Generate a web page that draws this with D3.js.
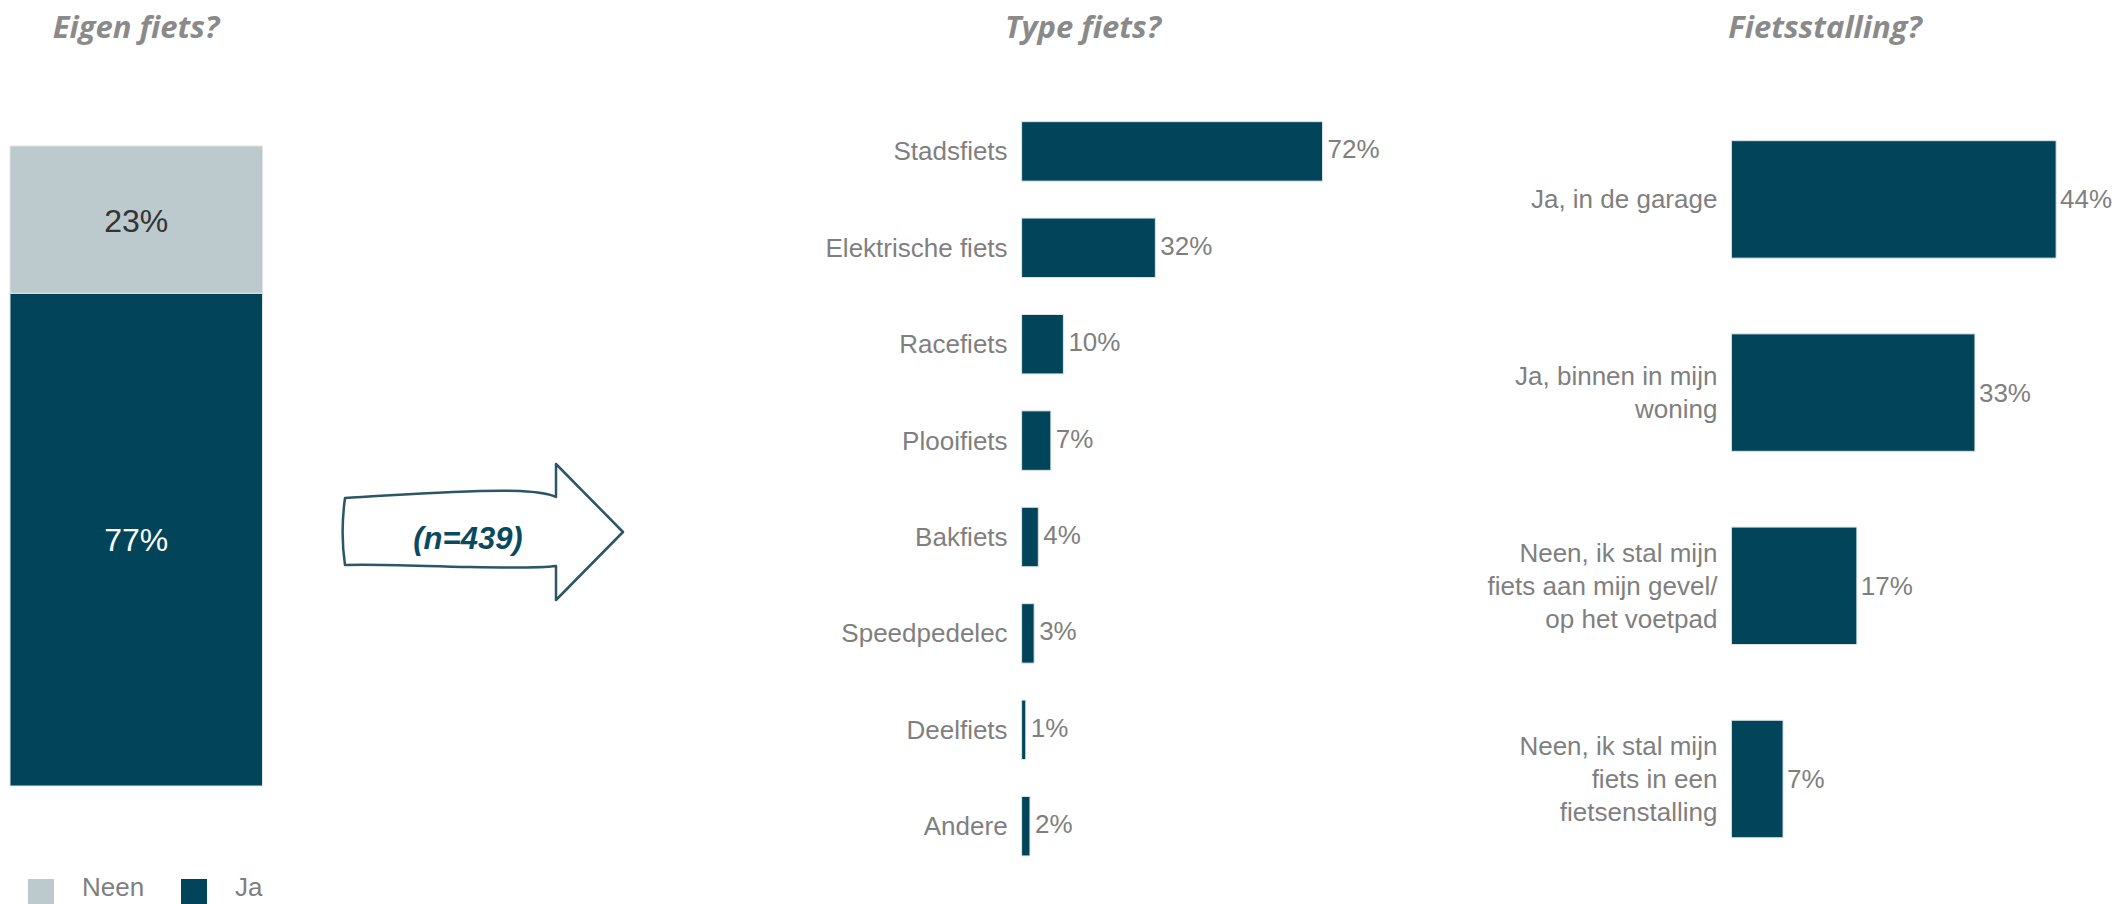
<!DOCTYPE html>
<html>
<head>
<meta charset="utf-8">
<script src="https://cdn.jsdelivr.net/npm/d3@7"></script>
<style>
  html, body { margin: 0; padding: 0; background: #ffffff; }
  svg { display: block; }
</style>
</head>
<body>
<svg id="chart" width="2118" height="904"></svg>
<script>
// ---------- DATA ----------
const titles = ["Eigen fiets?", "Type fiets?", "Fietsstalling?"];

const eigenCats = ["Ja", "Neen"];
const eigenVals = [77, 23];

const typeCats = ["Stadsfiets", "Elektrische fiets", "Racefiets", "Plooifiets", "Bakfiets", "Speedpedelec", "Deelfiets", "Andere"];
const typeVals = [72, 32, 10, 7, 4, 3, 1, 2];

const stallCats = ["Ja, in de garage", "Ja, binnen in mijn\nwoning", "Neen, ik stal mijn\nfiets aan mijn gevel/\nop het voetpad", "Neen, ik stal mijn\nfiets in een\nfietsenstalling"];
const stallVals = [44, 33, 17, 7];

const legendLabels = ["Neen", "Ja"];
const nLabel = "(n=439)";

// ---------- STYLE ----------
const DARK = "#02455b";
const LIGHT = "#bcc9cd";
const GREY = "#7f7f7f";
const TITLE_GREY = "#8a8a8a";
const FONT = "'Liberation Sans', Arial, Helvetica, sans-serif";
const TITLE_FONT = "'Open Sans', 'Noto Sans', sans-serif";

const svg = d3.select("#chart");

// ---------- TITLES ----------
const titleX = [136, 1083, 1825];
svg.selectAll("text.title").data(titles).join("text")
  .attr("class", "title")
  .attr("x", (d, i) => titleX[i])
  .attr("y", 38)
  .attr("text-anchor", "middle")
  .style("font-family", TITLE_FONT)
  .style("font-weight", "700")
  .style("font-style", "italic")
  .style("font-size", "31px")
  .style("fill", TITLE_GREY)
  .text(d => d);

// ---------- LEFT: stacked bar ----------
const yL = d3.scaleLinear().domain([0, 100]).range([786, 146]);
const xL = d3.scaleBand().domain(["Eigen fiets"]).range([10, 262.5]).padding(0);
const stackData = [];
let acc = 0;
eigenCats.forEach((c, i) => { stackData.push({ cat: c, v0: acc, v1: acc + eigenVals[i], v: eigenVals[i] }); acc += eigenVals[i]; });
const colorL = d3.scaleOrdinal().domain(["Ja", "Neen"]).range([DARK, LIGHT]);

const gL = svg.append("g");
gL.selectAll("rect").data(stackData).join("rect")
  .attr("x", xL("Eigen fiets"))
  .attr("width", xL.bandwidth())
  .attr("y", d => yL(d.v1))
  .attr("height", d => yL(d.v0) - yL(d.v1))
  .attr("fill", d => colorL(d.cat))
  .attr("stroke", "#dfe6e8")
  .attr("stroke-width", 1);
gL.selectAll("text").data(stackData).join("text")
  .attr("x", xL("Eigen fiets") + xL.bandwidth() / 2)
  .attr("y", d => yL((d.v0 + d.v1) / 2) + (d.cat === "Neen" ? 1 : 0))
  .attr("text-anchor", "middle")
  .attr("dominant-baseline", "central")
  .style("font-family", FONT)
  .style("font-size", "32px")
  .style("fill", d => d.cat === "Ja" ? "#ffffff" : "#333333")
  .text(d => d.v + "%");

// legend
const legX = [28, 181];
const gLeg = svg.append("g");
legendLabels.forEach((l, i) => {
  gLeg.append("rect").attr("x", legX[i]).attr("y", 879).attr("width", 26).attr("height", 26).attr("fill", colorL(l));
  gLeg.append("text").attr("x", legX[i] + 54).attr("y", 896)
    .style("font-family", FONT).style("font-size", "26px").style("fill", GREY).text(l);
});

// ---------- ARROW ----------
const arrowPath = "M345,498 C400,495 470,489 520,491 C540,492 550,494 556,497 L556,464 L623,532 L556,600 L556,566 C540,568 520,568 470,567 C420,566 380,564 345,565 C342,545 342,520 345,498 Z";
svg.append("path")
  .attr("d", arrowPath)
  .attr("fill", "#ffffff")
  .attr("stroke", "#2a5666")
  .attr("stroke-width", 2.5)
  .attr("stroke-linejoin", "round");
svg.append("text")
  .attr("x", 468).attr("y", 538)
  .attr("text-anchor", "middle")
  .attr("dominant-baseline", "central")
  .style("font-family", FONT)
  .style("font-weight", "700")
  .style("font-style", "italic")
  .style("font-size", "31px")
  .style("fill", "#0a4a5e")
  .text(nLabel);

// ---------- MIDDLE: Type fiets ----------
const x0M = 1021.6;
const xM = d3.scaleLinear().domain([0, 100]).range([x0M, x0M + 418]);
const yM = d3.scaleBand().domain(typeCats).range([103.2, 874.4]).paddingInner(0.383).paddingOuter(0.1915);
const gM = svg.append("g");
gM.selectAll("rect").data(typeCats).join("rect")
  .attr("x", xM(0))
  .attr("y", d => yM(d))
  .attr("width", (d, i) => xM(typeVals[i]) - xM(0))
  .attr("height", yM.bandwidth())
  .attr("fill", DARK)
  .attr("stroke", "#dfe6e8")
  .attr("stroke-width", 1);
gM.selectAll("text.cat").data(typeCats).join("text")
  .attr("class", "cat")
  .attr("x", xM(0) - 14)
  .attr("y", d => yM(d) + yM.bandwidth() / 2)
  .attr("text-anchor", "end")
  .attr("dominant-baseline", "central")
  .style("font-family", FONT).style("font-size", "26px").style("fill", GREY)
  .text(d => d);
gM.selectAll("text.val").data(typeCats).join("text")
  .attr("class", "val")
  .attr("x", (d, i) => xM(typeVals[i]) + 5)
  .attr("y", d => yM(d) + yM.bandwidth() / 2 - 2)
  .attr("dominant-baseline", "central")
  .style("font-family", FONT).style("font-size", "26px").style("fill", GREY)
  .text((d, i) => typeVals[i] + "%");

// ---------- RIGHT: Fietsstalling ----------
const x0R = 1731.4;
const xR = d3.scaleLinear().domain([0, 100]).range([x0R, x0R + 738]);
const yR = d3.scaleBand().domain(stallCats).range([102.8, 875.6]).paddingInner(0.392).paddingOuter(0.196);
const gR = svg.append("g");
gR.selectAll("rect").data(stallCats).join("rect")
  .attr("x", xR(0))
  .attr("y", d => yR(d))
  .attr("width", (d, i) => xR(stallVals[i]) - xR(0))
  .attr("height", yR.bandwidth())
  .attr("fill", DARK)
  .attr("stroke", "#dfe6e8")
  .attr("stroke-width", 1);
const lineH = 33;
gR.selectAll("text.cat").data(stallCats).join("text")
  .attr("class", "cat")
  .attr("text-anchor", "end")
  .style("font-family", FONT).style("font-size", "26px").style("fill", GREY)
  .each(function(d) {
    const lines = d.split("\n");
    const cy = yR(d) + yR.bandwidth() / 2;
    const t = d3.select(this);
    lines.forEach((ln, k) => {
      t.append("tspan")
        .attr("x", xR(0) - 14)
        .attr("y", cy + (k - (lines.length - 1) / 2) * lineH)
        .attr("dominant-baseline", "central")
        .text(ln);
    });
  });
gR.selectAll("text.val").data(stallCats).join("text")
  .attr("class", "val")
  .attr("x", (d, i) => xR(stallVals[i]) + 4)
  .attr("y", d => yR(d) + yR.bandwidth() / 2)
  .attr("dominant-baseline", "central")
  .style("font-family", FONT).style("font-size", "26px").style("fill", GREY)
  .text((d, i) => stallVals[i] + "%");
</script>
</body>
</html>
